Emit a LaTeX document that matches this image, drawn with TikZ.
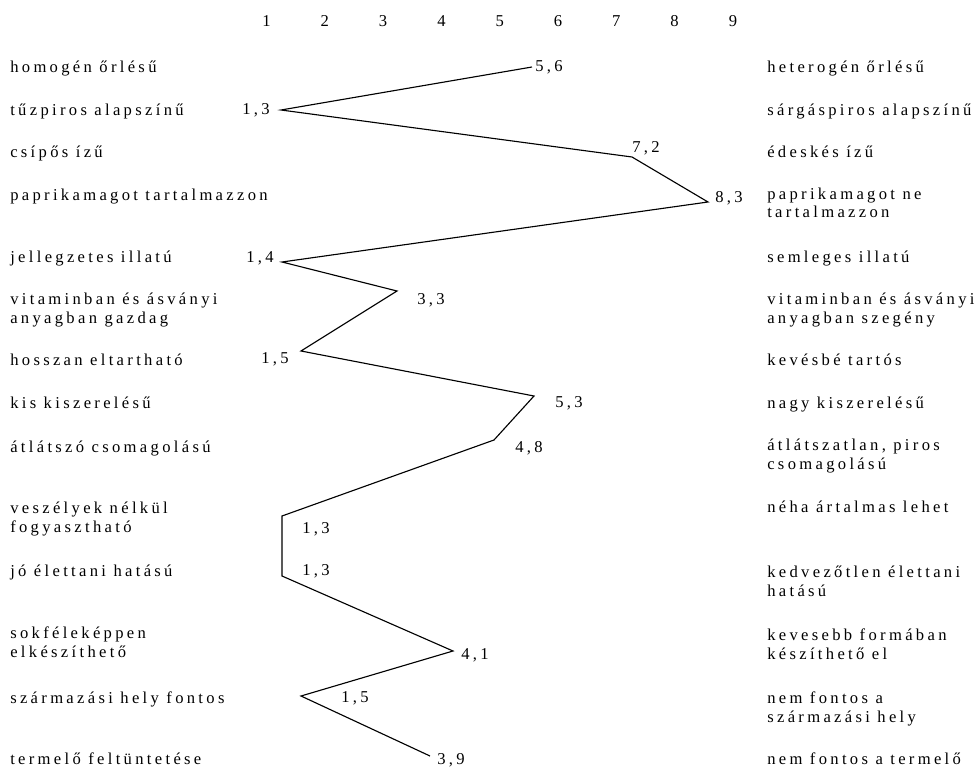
\documentclass[tikz,border=0pt]{standalone}
\usepackage{fontspec}
\setmainfont{Liberation Serif}[LetterSpace=20]
\usepackage{tikz}
\usetikzlibrary{positioning}

\begin{document}
\begin{tikzpicture}[
      x=0.025cm, y=-0.025cm,
      every node/.style={
        font=\fontsize{11.8}{13.5}\selectfont,
        inner sep=0pt, align=left, anchor=base west
      },
      profile/.style={line width=0.8pt, line join=miter}
    ]
    \useasboundingbox (0,0) rectangle (980,768);

    % Scale
    \foreach \n in {1,...,9}
      \node (s\n) [anchor=base] at ({266.5+(\n-1)*58.3},26.5) {\n};

    % Left attributes (two-line nodes sit on their last line)
    \node (l1)  at (10,73)  {homogén őrlésű};
    \node (l2)  at (10,116) {tűzpiros alapszínű};
    \node (l3)  at (10,158) {csípős ízű};
    \node (l4)  at (10,200) {paprikamagot tartalmazzon};
    \node (l5)  at (10,263) {jellegzetes illatú};
    \node (l6)  at (10,323) {vitaminban és ásványi\\anyagban gazdag};
    \node (l7)  at (10,365) {hosszan eltartható};
    \node (l8)  at (10,408) {kis kiszerelésű};
    \node (l9)  at (10,452) {átlátszó csomagolású};
    \node (l10) at (10,532) {veszélyek nélkül\\fogyasztható};
    \node (l11) at (10,576) {jó élettani hatású};
    \node (l12) at (10,657) {sokféleképpen\\elkészíthető};
    \node (l13) at (10,703) {származási hely fontos};
    \node (l14) at (10,764) {termelő feltüntetése};

    % Right attributes
    \node (r1)  at (767,73)  {heterogén őrlésű};
    \node (r2)  at (767,116) {sárgáspiros alapszínű};
    \node (r3)  at (767,158) {édeskés ízű};
    \node (r4)  at (767,218) {paprikamagot ne\\tartalmazzon};
    \node (r5)  at (767,263) {semleges illatú};
    \node (r6)  at (767,323) {vitaminban és ásványi\\anyagban szegény};
    \node (r7)  at (767,365) {kevésbé tartós};
    \node (r8)  at (767,408) {nagy kiszerelésű};
    \node (r9)  at (767,469) {átlátszatlan, piros\\csomagolású};
    \node (r10) at (767,512) {néha ártalmas lehet};
    \node (r11) at (767,596) {kedvezőtlen élettani\\hatású};
    \node (r12) at (767,659) {kevesebb formában\\készíthető el};
    \node (r13) at (767,722) {nem fontos a\\származási hely};
    \node (r14) at (767,764) {nem fontos a termelő};

    % Profile points
    \coordinate (p1)  at (532,67);
    \coordinate (p2)  at (281,110);
    \coordinate (p3)  at (632,157);
    \coordinate (p4)  at (708,202);
    \coordinate (p5)  at (282,262);
    \coordinate (p6)  at (397,291);
    \coordinate (p7)  at (301,351);
    \coordinate (p8)  at (534,396);
    \coordinate (p9)  at (494,440);
    \coordinate (p10) at (282,516);
    \coordinate (p11) at (282,576);
    \coordinate (p12) at (453,651);
    \coordinate (p13) at (301,696);
    \coordinate (p14) at (430,756);

    \draw[profile] (p1) \foreach \i in {2,...,14} { -- (p\i) };

    % Mean values
    \node (v1)  at (535,72)  {5,6};
    \node (v2)  at (242,115) {1,3};
    \node (v3)  at (632,153) {7,2};
    \node (v4)  at (715,202) {8,3};
    \node (v5)  at (246,262) {1,4};
    \node (v6)  at (417,304) {3,3};
    \node (v7)  at (261,363) {1,5};
    \node (v8)  at (555,407) {5,3};
    \node (v9)  at (515,452) {4,8};
    \node (v10) at (302,533) {1,3};
    \node (v11) at (302,575) {1,3};
    \node (v12) at (461,659) {4,1};
    \node (v13) at (341,702) {1,5};
    \node (v14) at (437,764) {3,9};
  \end{tikzpicture}
\end{document}
